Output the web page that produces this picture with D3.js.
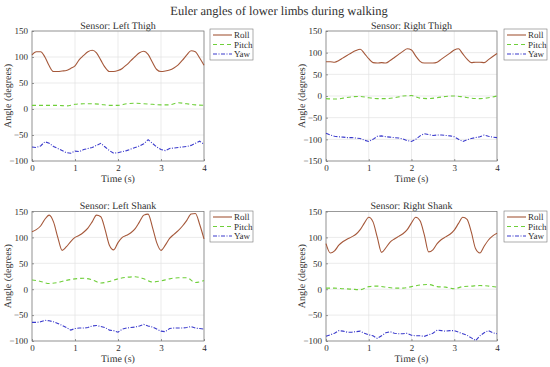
<!DOCTYPE html>
<html><head><meta charset="utf-8">
<script src="https://cdn.jsdelivr.net/npm/d3@7"></script>
<style>body{margin:0;background:#fff}svg{display:block}svg text{font-family:"Liberation Serif","Times New Roman",serif !important;fill:#303030;text-rendering:geometricPrecision}</style>
</head><body><svg id="c" width="550" height="367"></svg>
<script>
const title = "Euler angles of lower limbs during walking";
const seriesNames = ["Roll","Pitch","Yaw"];
const xTicks = [0,1,2,3,4];
const t41 = [0,0.1,0.2,0.3,0.4,0.5,0.6,0.7,0.8,0.9,1.0,1.1,1.2,1.3,1.4,1.5,1.6,1.7,1.8,1.9,2.0,2.1,2.2,2.3,2.4,2.5,2.6,2.7,2.8,2.9,3.0,3.1,3.2,3.3,3.4,3.5,3.6,3.7,3.8,3.9,4.0];
const t21 = [0,0.2,0.4,0.6,0.8,1.0,1.2,1.4,1.6,1.8,2.0,2.2,2.4,2.6,2.8,3.0,3.2,3.4,3.6,3.8,4.0];

// Left Thigh
const ltRoll = [104,110,110,100,83,72,72,73,74,78,83,95,103,110,113,108,94,80,72,72,74,78,85,93,101,108,111,105,90,76,72,73,75,79,85,94,104,112,110,98,84];
const ltPitch = [7,7,7,7,6,9,10,10,9,7,7,10,11,10,9,8,8,12,10,8,7];
const ltYaw = [-73,-74,-71,-63,-66,-72,-76,-80,-84,-85,-81,-82,-78,-76,-74,-70,-66,-73,-80,-85,-84,-82,-80,-77,-74,-71,-67,-59,-66,-73,-78,-80,-76,-75,-74,-73,-72,-70,-66,-62,-68];
// Right Thigh
const rtRoll = [79,79,78,82,88,94,100,105,108,98,86,77,76,77,76,82,89,96,103,109,106,92,80,76,76,76,78,85,92,99,106,109,97,85,77,78,78,77,84,91,98];
const rtPitch = [-6,-7,-5,-2,-1,-4,-6,-6,-4,0,1,-5,-6,-4,-1,0,-2,-5,-6,-4,0];
const rtYaw = [-86,-90,-93,-94,-95,-96,-96,-97,-98,-102,-105,-100,-93,-92,-94,-95,-96,-97,-99,-103,-105,-100,-92,-87,-89,-91,-90,-90,-91,-92,-94,-100,-105,-101,-98,-96,-94,-90,-93,-95,-96];
// Left Shank
const lsRoll = [111,115,122,135,143,130,100,75,82,92,100,104,110,118,130,143,140,115,85,76,90,100,104,109,117,130,143,145,120,90,75,85,98,106,113,122,133,145,146,125,97];
const lsPitch = [18,15,11,13,17,20,21,18,12,15,20,23,24,20,14,16,20,22,22,13,17];
const lsYaw = [-64,-64,-63,-60,-61,-63,-66,-70,-74,-79,-76,-75,-75,-74,-71,-70,-72,-74,-79,-80,-83,-77,-75,-74,-73,-71,-68,-71,-73,-77,-81,-82,-76,-75,-75,-75,-74,-72,-75,-76,-77];
// Right Shank
const rsRoll = [88,70,74,85,92,97,101,106,115,128,139,130,100,71,80,91,97,102,107,115,128,139,132,105,72,76,88,96,101,106,114,127,139,135,110,78,70,83,95,103,108];
const rsPitch = [2,2,1,0,-1,5,6,4,2,2,5,8,9,5,4,1,5,6,7,6,4];
const rsYaw = [-91,-88,-85,-80,-81,-83,-83,-82,-81,-85,-88,-90,-95,-90,-84,-82,-85,-86,-86,-85,-89,-90,-90,-91,-88,-85,-79,-80,-81,-80,-80,-83,-86,-89,-94,-99,-90,-84,-80,-84,-86];

const panels = [
  {name:"Sensor: Left Thigh", x0:32, x1:204, y0:31, y1:161, dom:[-100,150], ticks:[-100,-50,0,50,100,150], roll:ltRoll, pitch:ltPitch, yaw:ltYaw, lx:210, ly:29},
  {name:"Sensor: Right Thigh", x0:326, x1:497, y0:31, y1:161, dom:[-150,150], ticks:[-150,-100,-50,0,50,100,150], roll:rtRoll, pitch:rtPitch, yaw:rtYaw, lx:504, ly:29},
  {name:"Sensor: Left Shank", x0:32, x1:204, y0:211.5, y1:341, dom:[-100,150], ticks:[-100,-50,0,50,100,150], roll:lsRoll, pitch:lsPitch, yaw:lsYaw, lx:210, ly:211},
  {name:"Sensor: Right Shank", x0:326, x1:497, y0:211.5, y1:341, dom:[-100,150], ticks:[-100,-50,0,50,100,150], roll:rsRoll, pitch:rsPitch, yaw:rsYaw, lx:504, ly:211}
];
const colors = {Roll:"#a5583a", Pitch:"#6fcf3a", Yaw:"#3a3acc"};
const dashes = {Roll:null, Pitch:"4,3", Yaw:"4,1.5,1,1.5"};
const SERIF = '"Liberation Serif","Times New Roman",serif';

const svg = d3.select("#c");
svg.append("text").attr("x",279).attr("y",14.5).attr("text-anchor","middle").style("font-size","12.5px").style("font-family",SERIF).text(title);

panels.forEach(p=>{
  const x = d3.scaleLinear().domain([0,4]).range([p.x0,p.x1]);
  const y = d3.scaleLinear().domain(p.dom).range([p.y1,p.y0]);
  const g = svg.append("g");
  g.selectAll(".gx").data(xTicks).join("line").attr("x1",d=>x(d)).attr("x2",d=>x(d)).attr("y1",p.y0).attr("y2",p.y1).attr("stroke","#e3e3e3").attr("stroke-width",0.7);
  g.selectAll(".gy").data(p.ticks).join("line").attr("y1",d=>y(d)).attr("y2",d=>y(d)).attr("x1",p.x0).attr("x2",p.x1).attr("stroke","#e3e3e3").attr("stroke-width",0.7);
  const ax = g.append("g").attr("transform",`translate(0,${p.y1})`).call(d3.axisBottom(x).tickValues(xTicks).tickSize(-2).tickPadding(4).tickFormat(d3.format("d")));
  const ay = g.append("g").attr("transform",`translate(${p.x0},0)`).call(d3.axisLeft(y).tickValues(p.ticks).tickSize(-2).tickPadding(4).tickFormat(d3.format("d")));
  [ax,ay].forEach(a=>{a.attr("font-family",null).attr("font-size",null);a.select(".domain").remove();a.selectAll("line").attr("stroke","#555").attr("stroke-width",0.6);a.selectAll("text").style("font-size","9px").style("font-family",SERIF).attr("fill","#303030");});
  g.append("rect").attr("x",p.x0).attr("y",p.y0).attr("width",p.x1-p.x0).attr("height",p.y1-p.y0).attr("fill","none").attr("stroke","#777").attr("stroke-width",0.7);
  const defs = [["Roll",t41,p.roll,d3.curveMonotoneX],["Pitch",t21,p.pitch,d3.curveMonotoneX],["Yaw",t41,p.yaw,d3.curveLinear]];
  defs.forEach(([n,ts,vs,cv])=>{
    const line = d3.line().x((d,i)=>x(ts[i])).y(d=>y(d)).curve(cv);
    g.append("path").datum(vs).attr("d",line).attr("fill","none").attr("stroke",colors[n]).attr("stroke-width",1.1).attr("stroke-dasharray",dashes[n]);
  });
  g.append("text").attr("x",(p.x0+p.x1)/2).attr("y",p.y0-2.5).attr("text-anchor","middle").style("font-size","10px").style("font-family",SERIF).text(p.name);
  g.append("text").attr("x",(p.x0+p.x1)/2).attr("y",p.y1+21).attr("text-anchor","middle").style("font-size","10px").style("font-family",SERIF).text("Time (s)");
  g.append("text").attr("transform",`translate(${p.x0-21},${(p.y0+p.y1)/2}) rotate(-90)`).attr("text-anchor","middle").style("font-size","10px").style("font-family",SERIF).text("Angle (degrees)");
  const lg = g.append("g").attr("transform",`translate(${p.lx},${p.ly})`);
  lg.append("rect").attr("x",0).attr("y",0).attr("width",43).attr("height",31).attr("fill","#fff").attr("stroke","#777").attr("stroke-width",0.6);
  seriesNames.forEach((n,i)=>{
    const yy = 6+i*9.5;
    lg.append("line").attr("x1",3).attr("x2",22).attr("y1",yy).attr("y2",yy).attr("stroke",colors[n]).attr("stroke-width",1.1).attr("stroke-dasharray",dashes[n]);
    lg.append("text").attr("x",24).attr("y",yy+3).style("font-size","9px").style("font-family",SERIF).text(n);
  });
});
</script></body></html>
